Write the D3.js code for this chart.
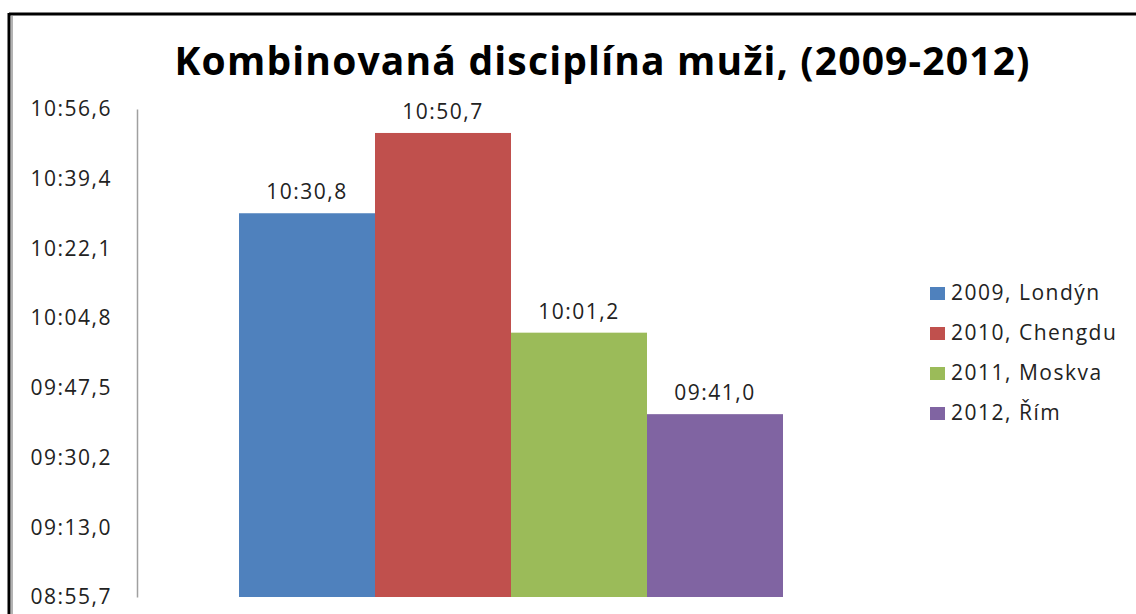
<!DOCTYPE html>
<html>
<head>
<meta charset="utf-8">
<script src="https://cdn.jsdelivr.net/npm/d3@7"></script>
<style>
body { margin: 0; background: #fff; }
text { font-family: "Open Sans", "DejaVu Sans", sans-serif; }
</style>
</head>
<body>
<svg id="chart"></svg>
<script>
// series names and times in seconds (mm:ss,s)
var series = ["2009, Londýn", "2010, Chengdu", "2011, Moskva", "2012, Řím"];
var times = [630.8, 650.7, 601.2, 581.0];
var colors = ["#4f81bd", "#c0504d", "#9bbb59", "#8064a2"];
// axis runs in Excel day units: 0.0062 .. 0.0076 step 0.0002
var tickValues = [535.68, 552.96, 570.24, 587.52, 604.8, 622.08, 639.36, 656.64];

var width = 1136, height = 614;

var svg = d3.select("#chart")
    .attr("width", width)
    .attr("height", height);

// frame
svg.append("line").attr("x1", 9).attr("x2", width).attr("y1", 14).attr("y2", 14)
    .attr("stroke", "#000").attr("stroke-width", 3);
svg.append("line").attr("x1", 9).attr("x2", 9).attr("y1", 13).attr("y2", height)
    .attr("stroke", "#000").attr("stroke-width", 3);
svg.append("line").attr("x1", 12).attr("x2", 12).attr("y1", 16).attr("y2", height)
    .attr("stroke", "#9a9a9a").attr("stroke-width", 1.5);

function fmt(s){
    var m = Math.floor(s / 60);
    var rest = s - m * 60;
    var r = rest.toFixed(1);
    if (rest < 10) r = "0" + r;
    return (m < 10 ? "0" + m : m) + ":" + r.replace(".", ",");
}

var y = d3.scaleLinear()
    .domain([535.68, 656.64])
    .range([597, 109]);

var x = d3.scaleBand()
    .domain(series)
    .range([239, 783])
    .padding(0);

var color = d3.scaleOrdinal().domain(series).range(colors);

var fs = 21, ls = 1.5;

// title
svg.append("text")
    .attr("x", 602).attr("y", 75)
    .attr("text-anchor", "middle")
    .attr("font-size", 39)
    .attr("font-weight", "bold")
    .attr("fill", "#000")
    .attr("textLength", 855)
    .attr("lengthAdjust", "spacing")
    .text("Kombinovaná disciplína muži, (2009-2012)");

// y axis
var yAxis = svg.append("g")
    .attr("transform", "translate(137,0)")
    .call(d3.axisLeft(y).tickValues(tickValues).tickSize(0).tickPadding(25).tickFormat(fmt));
yAxis.select(".domain").attr("stroke", "#a0a0a0").attr("stroke-width", 1.5);
yAxis.selectAll("text")
    .attr("font-size", fs)
    .attr("letter-spacing", ls)
    .attr("fill", "#222");

// bars
svg.selectAll("rect.bar")
    .data(series)
    .enter()
    .append("rect")
    .attr("class", "bar")
    .attr("x", function(d){ return x(d); })
    .attr("width", x.bandwidth())
    .attr("y", function(d, i){ return y(times[i]); })
    .attr("height", function(d, i){ return y.range()[0] - y(times[i]); })
    .attr("fill", function(d){ return color(d); });

// value labels
svg.selectAll("text.val")
    .data(series)
    .enter()
    .append("text")
    .attr("class", "val")
    .attr("x", function(d){ return x(d) + x.bandwidth() / 2; })
    .attr("y", function(d, i){ return y(times[i]) - 14; })
    .attr("text-anchor", "middle")
    .attr("font-size", fs)
    .attr("letter-spacing", ls)
    .attr("fill", "#222")
    .text(function(d, i){ return fmt(times[i]); });

// legend
var legend = svg.selectAll("g.leg")
    .data(series)
    .enter()
    .append("g")
    .attr("class", "leg")
    .attr("transform", function(d, i){ return "translate(930," + (293 + i * 40) + ")"; });
legend.append("rect")
    .attr("x", 0).attr("y", -6)
    .attr("width", 15).attr("height", 13)
    .attr("fill", function(d){ return color(d); });
legend.append("text")
    .attr("x", 21).attr("y", 0)
    .attr("dy", "0.35em")
    .attr("font-size", fs)
    .attr("letter-spacing", ls)
    .attr("fill", "#222")
    .text(function(d){ return d; });
</script>
</body>
</html>
